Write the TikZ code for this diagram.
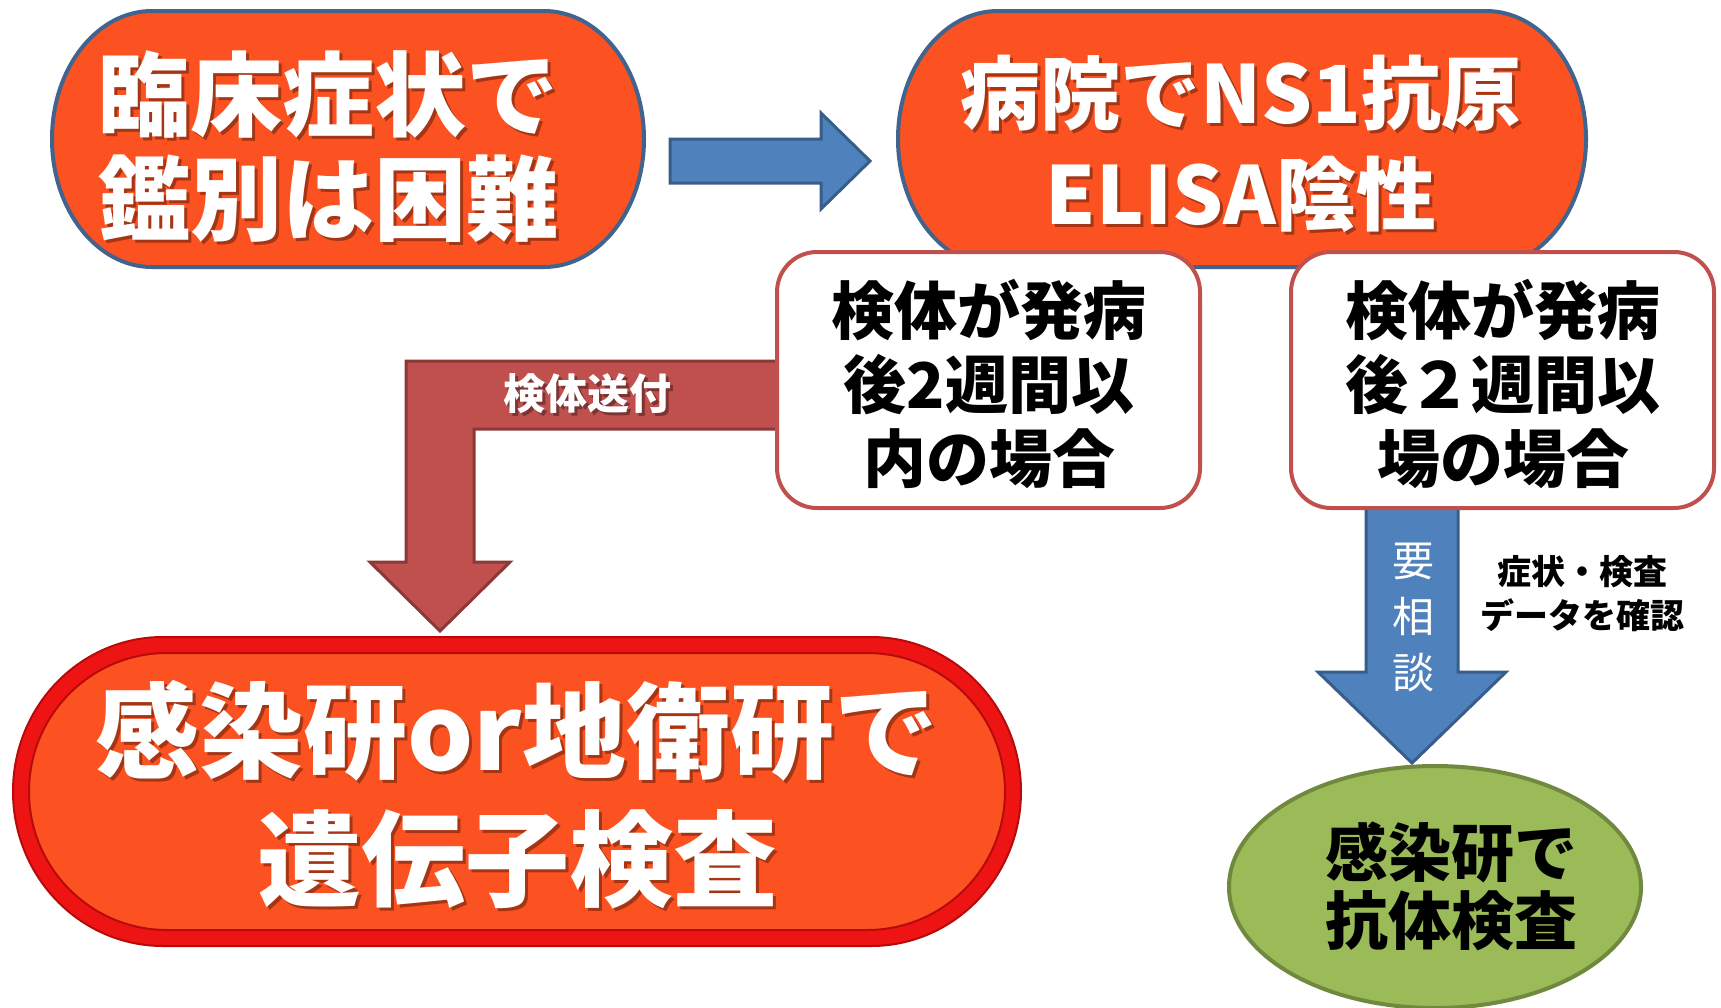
\documentclass[tikz,border=0pt]{standalone}
\usepackage{fontspec}
\newfontfamily\jp{Noto Sans CJK JP}
\definecolor{orng}{HTML}{FC5221}
\definecolor{navy}{HTML}{41648F}
\definecolor{arblue}{HTML}{4F81BD}
\definecolor{arblued}{HTML}{385D8A}
\definecolor{arred}{HTML}{C0504D}
\definecolor{arredd}{HTML}{8C3836}
\definecolor{grn}{HTML}{9BBB59}
\definecolor{grnd}{HTML}{71893F}
\definecolor{brred}{HTML}{EE1414}
\definecolor{dkred}{HTML}{B80A0A}
% stadium path: L T R B rx
\newcommand\stad[5]{({#1+#5},{#2}) -- ({#3-#5},{#2})
 .. controls ({#3-#5+0.5523*#5},{#2}) and ({#3},{(#2+#4)/2-0.5523*(#4-#2)/2}) .. ({#3},{(#2+#4)/2})
 .. controls ({#3},{(#2+#4)/2+0.5523*(#4-#2)/2}) and ({#3-#5+0.5523*#5},{#4}) .. ({#3-#5},{#4})
 -- ({#1+#5},{#4})
 .. controls ({#1+#5-0.5523*#5},{#4}) and ({#1},{(#2+#4)/2+0.5523*(#4-#2)/2}) .. ({#1},{(#2+#4)/2})
 .. controls ({#1},{(#2+#4)/2-0.5523*(#4-#2)/2}) and ({#1+#5-0.5523*#5},{#2}) .. ({#1+#5},{#2}) -- cycle}
% white text with shadow: name, x, y, size, skip, text
\newcommand\wtext[6]{%
 \node[txtshadow,font=\jp\bfseries\fontsize{#4}{#5}\selectfont] (#1s) at ({#2+3},{#3+3}) {#6};
 \node[txtwhite,font=\jp\bfseries\fontsize{#4}{#5}\selectfont] (#1) at (#2,#3) {#6};}
\begin{document}
\begin{tikzpicture}[x=1pt,y=-1pt,
  txtwhite/.style={text=white,inner sep=0pt,align=center},
  txtshadow/.style={text=black,text opacity=0.35,inner sep=0pt,align=center},
  txtblack/.style={text=black,inner sep=0pt,align=center},
  topshape/.style={fill=orng,draw=navy,line width=4pt},
  condbox/.style={fill=white,draw=arred,line width=4pt,rounded corners=40pt},
  bluearrow/.style={fill=arblue,draw=arblued,line width=3pt,line join=miter},
  redarrow/.style={fill=arred,draw=arredd,line width=3pt,line join=miter}]
\useasboundingbox[fill=white] (0,0) rectangle (1721,1007);

% top left
\draw[topshape] \stad{52}{11}{644}{267}{100};
\wtext{n1}{328}{147}{92}{104}{臨床症状で\\鑑別は困難}

% blue right arrow
\draw[bluearrow] (670,139) -- (821,139) -- (821,113) -- (870,161) -- (821,209) -- (821,183) -- (670,183) -- cycle;

% top right
\draw[topshape] \stad{898}{11}{1586}{267}{100};
\wtext{n2}{1241}{144}{80}{101}{病院でNS1抗原\\ELISA陰性}

% red bent arrow
\draw[redarrow] (800,361) -- (406,361) -- (406,562) -- (370,562) -- (440,631) -- (510,562) -- (474,562) -- (474,429) -- (800,429) -- cycle;
\wtext{lab1}{587}{394}{42}{46}{検体送付}

% blue down arrow
\draw[bluearrow] (1366,490) -- (1366,672) -- (1318,672) -- (1412,763) -- (1506,672) -- (1458,672) -- (1458,490) -- cycle;
\node[txtwhite,font=\jp\fontsize{42}{56}\selectfont] (lab2) at (1413,617) {要\\相\\談};
\node[txtblack,font=\jp\bfseries\fontsize{34}{44}\selectfont] (lab3) at (1582,594) {症状・検査\\データを確認};

% condition boxes
\draw[condbox] (777,252) rectangle (1200,508);
\node[txtblack,font=\jp\bfseries\fontsize{63}{74}\selectfont] (b3) at (989,384) {検体が発病\\後2週間以\\内の場合};
\draw[condbox] (1291,252) rectangle (1714,508);
\node[txtblack,font=\jp\bfseries\fontsize{63}{74}\selectfont] (b4) at (1503,384) {検体が発病\\後２週間以\\場の場合};

% bottom left big box
\draw[fill=brred,draw=dkred,line width=2pt] \stad{13}{637}{1021}{946}{150};
\draw[fill=orng,draw=dkred,line width=2pt] \stad{29}{653}{1005}{930}{138};
\wtext{b5}{517}{795}{104}{128}{感染研or地衛研で\\遺伝子検査}

% green ellipse
\draw[fill=grn,draw=grnd,line width=4pt] (1435,887) ellipse [x radius=206, y radius=121];
\node[txtblack,font=\jp\bfseries\fontsize{63}{68}\selectfont] (g) at (1451,886) {感染研で\\抗体検査};
\end{tikzpicture}
\end{document}
